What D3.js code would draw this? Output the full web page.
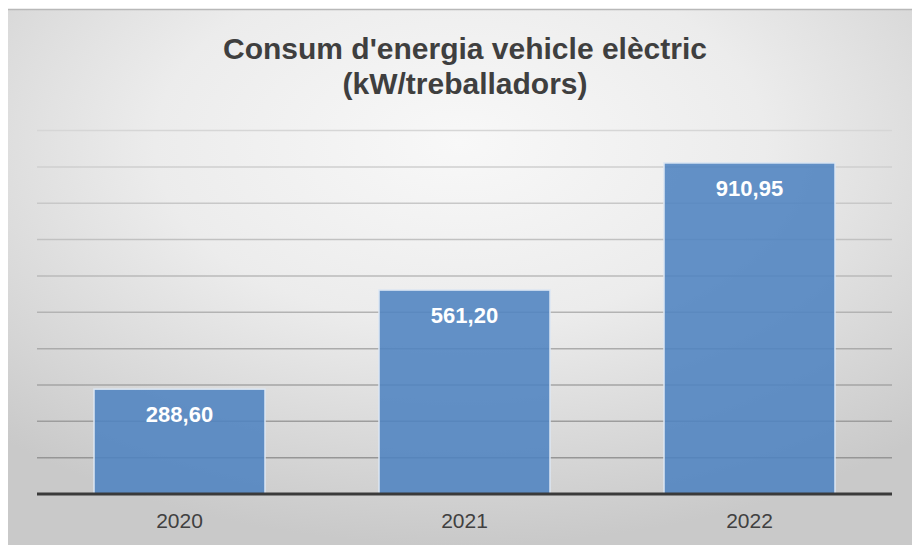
<!DOCTYPE html>
<html lang="ca">
<head>
<meta charset="UTF-8">
<title>Consum d'energia vehicle elèctric</title>
<script src="https://d3js.org/d3.v7.min.js"></script>
<style>
  body { margin: 0; background: #fff; font-family: "Liberation Sans", Arial, sans-serif; }
</style>
</head>
<body>
<script>
  var years = ["2020", "2021", "2022"]
  var values = [288.60, 561.20, 910.95]
  var labels = ["288,60", "561,20", "910,95"]
  var gridTicks = [0, 100, 200, 300, 400, 500, 600, 700, 800, 900, 1000]

  var width = 912
  var height = 545
  var plotLeft = 37, plotRight = 892, plotTop = 130.6, plotBottom = 494

  const svg = d3.select("body").append("svg")
    .attr("width", width)
    .attr("height", height)

  var defs = svg.append("defs")
  var grad = defs.append("radialGradient")
    .attr("id", "bg")
    .attr("cx", "50%").attr("cy", "25%").attr("r", "75%")
  grad.append("stop").attr("offset", "0%").attr("stop-color", "#f8f8f8")
  grad.append("stop").attr("offset", "45%").attr("stop-color", "#ececec")
  grad.append("stop").attr("offset", "100%").attr("stop-color", "#c9c9c9")

  svg.append("rect")
    .attr("x", 8).attr("y", 9)
    .attr("width", width - 8).attr("height", height - 9)
    .attr("fill", "url(#bg)")
  svg.append("line")
    .attr("x1", 8).attr("x2", width).attr("y1", 9.5).attr("y2", 9.5)
    .attr("stroke", "#b8b8b8").attr("stroke-width", 1.5)

  var x = d3.scaleBand().domain(years).range([plotLeft, plotRight]).paddingInner(0.4).paddingOuter(0.2)
  var y = d3.scaleLinear().domain([0, 1000]).range([plotBottom, plotTop])
  var gridColor = d3.scaleLinear().domain([plotTop, plotBottom]).range(["#d6d6d6", "#8f8f8f"])

  // gridlines
  svg.append("g").selectAll("line")
    .data(gridTicks.slice(1))
    .enter().append("line")
    .attr("x1", plotLeft).attr("x2", plotRight)
    .attr("y1", d => y(d)).attr("y2", d => y(d))
    .attr("stroke", d => gridColor(y(d)))
    .attr("stroke-width", 1.5)

  // bars
  svg.append("g").selectAll("rect")
    .data(values)
    .enter().append("rect")
    .attr("x", (d, i) => x(years[i]))
    .attr("y", d => y(d))
    .attr("width", x.bandwidth())
    .attr("height", d => y(0) - y(d))
    .attr("fill", "#4f83c0")
    .attr("fill-opacity", 0.88)
    .attr("stroke", "#dbe6f3")
    .attr("stroke-width", 1.5)

  // baseline
  svg.append("line")
    .attr("x1", plotLeft).attr("x2", plotRight)
    .attr("y1", y(0)).attr("y2", y(0))
    .attr("stroke", "#3a3a3a").attr("stroke-width", 3)

  // value labels
  svg.append("g").selectAll("text")
    .data(values)
    .enter().append("text")
    .attr("x", (d, i) => x(years[i]) + x.bandwidth() / 2)
    .attr("y", d => y(d) + 33)
    .attr("text-anchor", "middle")
    .attr("fill", "#fff")
    .attr("font-weight", "bold")
    .attr("font-size", "22px")
    .text((d, i) => labels[i])

  // x axis labels
  svg.append("g").selectAll("text")
    .data(years)
    .enter().append("text")
    .attr("x", d => x(d) + x.bandwidth() / 2)
    .attr("y", 528)
    .attr("text-anchor", "middle")
    .attr("fill", "#404040")
    .attr("font-size", "21px")
    .text(d => d)

  // title
  svg.append("text")
    .attr("x", 465).attr("y", 59)
    .attr("text-anchor", "middle")
    .attr("fill", "#3f3f3f")
    .attr("font-weight", "bold")
    .attr("font-size", "30px")
    .text("Consum d'energia vehicle elèctric")
  svg.append("text")
    .attr("x", 465).attr("y", 94)
    .attr("text-anchor", "middle")
    .attr("fill", "#3f3f3f")
    .attr("font-weight", "bold")
    .attr("font-size", "30px")
    .text("(kW/treballadors)")
</script>
</body>
</html>
